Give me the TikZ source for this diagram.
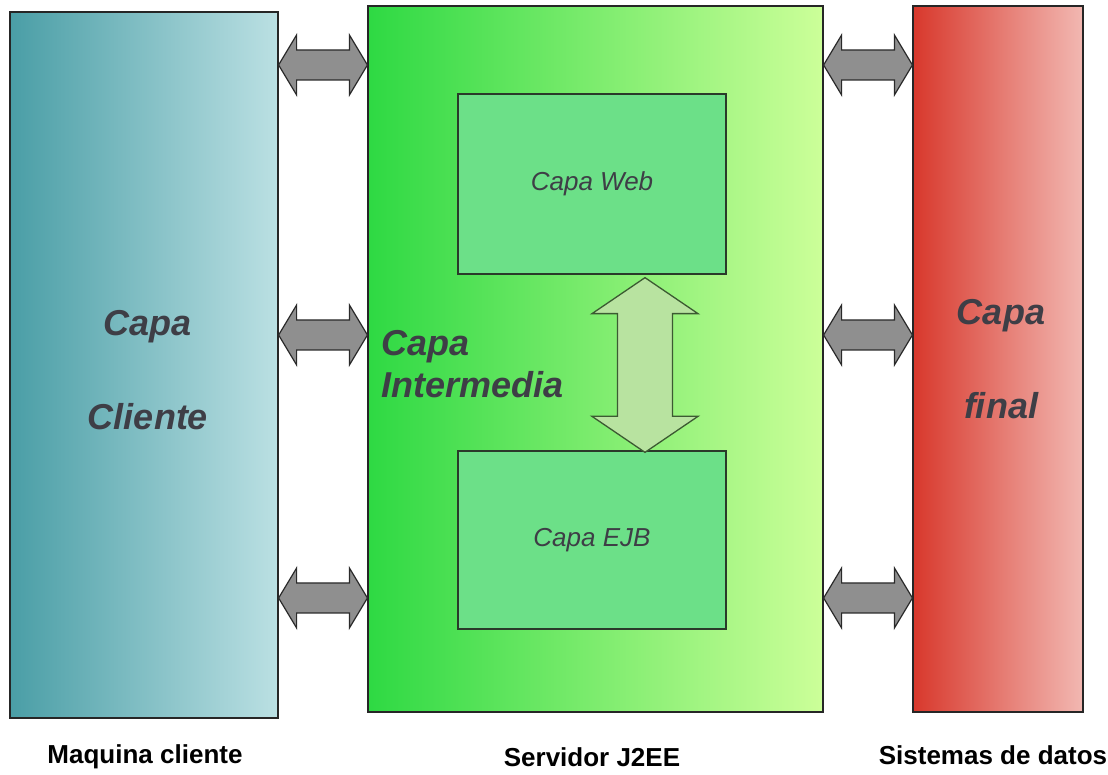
\documentclass[tikz,border=0pt]{standalone}
\usepackage{fontspec}
\setmainfont{Liberation Sans}
\usetikzlibrary{calc}

\definecolor{tealdark}{HTML}{4A9EA6}
\definecolor{tealmid}{HTML}{8FC3C7}
\definecolor{teallight}{HTML}{BBE0E3}
\definecolor{greendark}{HTML}{2ED943}
\definecolor{greenmid}{HTML}{94EA7C}
\definecolor{greenlight}{HTML}{CCFF99}
\definecolor{reddark}{HTML}{D8382C}
\definecolor{redmid}{HTML}{E8766C}
\definecolor{redlight}{HTML}{F2B8B2}
\definecolor{innerfill}{HTML}{6CE088}
\definecolor{inneredge}{HTML}{2A3A2A}
\definecolor{linkfill}{HTML}{8F8F8F}
\definecolor{linkedge}{HTML}{2A2A2A}
\definecolor{vfill}{HTML}{B8E3A0}
\definecolor{vedge}{HTML}{3C5A32}
\definecolor{labelgray}{HTML}{3E3E46}

\tikzset{
  tierbox/.style={draw=black!85, line width=1.2pt, rectangle, inner sep=0pt},
  innerbox/.style={draw=inneredge, line width=1.3pt, fill=innerfill, rectangle, inner sep=0pt,
    minimum width=268pt, font=\fontsize{26}{30}\selectfont\itshape, text=labelgray},
  tiertext/.style={font=\fontsize{36}{94}\selectfont\bfseries\itshape, text=labelgray, align=center, inner sep=0pt},
  caption/.style={font=\fontsize{26}{30}\selectfont\bfseries, text=black, inner sep=0pt},
  garrow/.style={fill=linkfill, draw=linkedge, line width=1.2pt, line join=miter},
  varrow/.style={fill=vfill, draw=vedge, line width=1.3pt, line join=miter}
}

% two-headed grey link between the facing sides of two tiers, at height #3
\newcommand\tierlink[3]{%
  \path[garrow] let \p1=(#1.east), \p2=(#2.west) in
    (\x1,#3pt) -- (\x1+18pt,#3pt+30pt) -- (\x1+18pt,#3pt+15pt) -- (\x2-18pt,#3pt+15pt)
    -- (\x2-18pt,#3pt+30pt) -- (\x2,#3pt) -- (\x2-18pt,#3pt-30pt) -- (\x2-18pt,#3pt-15pt)
    -- (\x1+18pt,#3pt-15pt) -- (\x1+18pt,#3pt-30pt) -- cycle;}

\begin{document}
\begin{tikzpicture}[x=1pt,y=1pt]
  \useasboundingbox (0,0) rectangle (1108,774);

  % the three tiers
  \node[tierbox, minimum width=268pt, minimum height=706pt,
        left color=tealdark, middle color=tealmid, right color=teallight] (client) at (144,409) {};
  \node[tierbox, minimum width=455pt, minimum height=706pt,
        left color=greendark, middle color=greenmid, right color=greenlight] (server) at (595.5,415) {};
  \node[tierbox, minimum width=170pt, minimum height=706pt,
        left color=reddark, middle color=redmid, right color=redlight] (data) at (998,415) {};

  % containers inside the J2EE server
  \node[innerbox, minimum height=180pt] (web) at (592,590) {Capa Web};
  \node[innerbox, minimum height=178pt] (ejb) at (592,234) {Capa EJB};

  % web <-> EJB link
  \path[varrow] let \p1=(web.south), \p2=(ejb.north) in
    (645,\y1-3pt) -- (698,\y1-39pt) -- (672.5,\y1-39pt) -- (672.5,\y2+34pt) -- (698,\y2+34pt)
    -- (645,\y2-2pt) -- (592,\y2+34pt) -- (617.5,\y2+34pt) -- (617.5,\y1-39pt) -- (592,\y1-39pt) -- cycle;

  % tier labels
  \node[tiertext] (clientlbl) at (148,404) {Capa\\Cliente};
  \node[tiertext] (datalbl) at (1001,415) {Capa\\final};
  \node[tiertext, font=\fontsize{36}{42}\selectfont\bfseries\itshape, align=left, anchor=west]
       (serverlbl) at (381,410) {Capa\\Intermedia};

  % links between tiers
  \tierlink{client}{server}{709}
  \tierlink{client}{server}{439}
  \tierlink{client}{server}{176}
  \tierlink{server}{data}{709}
  \tierlink{server}{data}{439}
  \tierlink{server}{data}{176}

  % captions under the tiers
  \node[caption] (clientcap) at (145,17) {Maquina cliente};
  \node[caption] (servercap) at (592,17) {Servidor J2EE};
  \node[caption] (datacap) at (993,19) {Sistemas de datos};
\end{tikzpicture}
\end{document}
